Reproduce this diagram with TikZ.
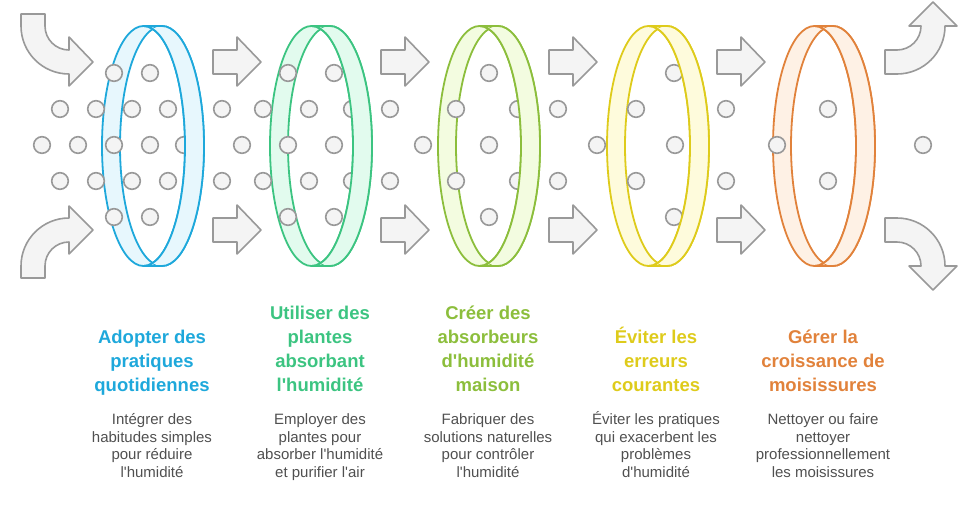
\documentclass[tikz,border=0pt]{standalone}
\usepackage{fontspec}
\newfontfamily\police{Liberation Sans}
\definecolor{dotfill}{HTML}{F4F4F4}
\definecolor{dotline}{HTML}{999999}
\definecolor{bodytext}{HTML}{505050}
\definecolor{ringBleu}{HTML}{1EA8DB}
\definecolor{fondBleu}{HTML}{E7F7FD}
\definecolor{ringVert}{HTML}{3CC481}
\definecolor{fondVert}{HTML}{E2FBEE}
\definecolor{ringLime}{HTML}{8CBE3C}
\definecolor{fondLime}{HTML}{F3FCE0}
\definecolor{ringJaune}{HTML}{DECB1B}
\definecolor{fondJaune}{HTML}{FEFBDC}
\definecolor{ringOrange}{HTML}{E1823B}
\definecolor{fondOrange}{HTML}{FEF1E5}

\tikzset{
  dot/.style={fill=dotfill, draw=dotline, line width=1.6},
  flow/.style={fill=dotfill, draw=dotline, line width=1.6, line join=round},
  ringline/.style={line width=1.8},
  titre/.style={font=\police\fontsize{18.5}{24}\selectfont\bfseries, align=center,
    anchor=south, inner sep=0, execute at end node=\strut},
  texte/.style={font=\police\fontsize{15}{17.5}\selectfont, text=bodytext, align=center,
    anchor=north, inner sep=0, execute at begin node=\strut}
}

% #1 = centre of the back ellipse, #2 = line colour, #3 = fill colour
\newcommand{\anneauArriere}[3]{
  \fill[#3] (#1,26) -- ({#1+18.5},26) arc[start angle=-90, end angle=90, x radius=42, y radius=120]
    -- (#1,266) arc[start angle=90, end angle=270, x radius=41.5, y radius=120] -- cycle;
  \begin{scope}
    \clip (#1,146) ellipse[x radius=41.5, y radius=120];
    \fill[white] ({#1+18.5},146) ellipse[x radius=42, y radius=120];
  \end{scope}
  \draw[ringline, #2] (#1,146) ellipse[x radius=41.5, y radius=120]
    ({#1+18.5},146) ellipse[x radius=42, y radius=120];
  \draw[ringline, #2] (#1,26) -- ({#1+18.5},26) (#1,266) -- ({#1+18.5},266);
}
\newcommand{\anneauAvant}[3]{
  \begin{scope}
    \clip ({#1+18.5},146) ellipse[x radius=42, y radius=120];
    \fill[#3, even odd rule] (#1-50,0) rectangle (#1+80,300) (#1,146) ellipse[x radius=41.5, y radius=120];
  \end{scope}
  \draw[ringline, #2] (#1,26) arc[start angle=-90, end angle=90, x radius=41.5, y radius=120]
    ({#1+18.5},26) arc[start angle=-90, end angle=90, x radius=42, y radius=120];
  \draw[ringline, #2] (#1,26) -- ({#1+18.5},26) (#1,266) -- ({#1+18.5},266);
}

\begin{document}
\begin{tikzpicture}[x=1pt, y=-1pt]
    \useasboundingbox (0,0) rectangle (965,507);

    % back half of the rings
    \anneauArriere{143.5}{ringBleu}{fondBleu}
    \anneauArriere{311.5}{ringVert}{fondVert}
    \anneauArriere{479.5}{ringLime}{fondLime}
    \anneauArriere{648.5}{ringJaune}{fondJaune}
    \anneauArriere{814.5}{ringOrange}{fondOrange}

    % particles
    \foreach \x in {114,150,288,334,489,674}
        \draw[dot] (\x,73) circle[radius=8.3] (\x,217) circle[radius=8.3];
    \foreach \x in {60,96,132,168,222,263,309,352,390,456,518,558,636,726,828}
        \draw[dot] (\x,109) circle[radius=8.3] (\x,181) circle[radius=8.3];
    \foreach \x in {42,78,114,150,184,242,288,334,423,489,597,675,777,923}
        \draw[dot] (\x,145) circle[radius=8.3];

    % front half of the rings
    \anneauAvant{143.5}{ringBleu}{fondBleu}
    \anneauAvant{311.5}{ringVert}{fondVert}
    \anneauAvant{479.5}{ringLime}{fondLime}
    \anneauAvant{648.5}{ringJaune}{fondJaune}
    \anneauAvant{814.5}{ringOrange}{fondOrange}

    % flow arrows
    \foreach \x in {213,381,549,717}
        \foreach \y in {50,218}
            \draw[flow] (\x,\y) -- ++(24,0) -- ++(0,-13) -- ++(24,25) -- ++(-24,24) -- ++(0,-12) -- ++(-24,0) -- cycle;
    \draw[flow] (21,14) -- (45,14) -- (45,26) arc[start angle=180, end angle=90, radius=24]
        -- (69,37) -- (93,62) -- (69,86) -- (69,74) arc[start angle=90, end angle=180, radius=48] -- cycle;
    \draw[flow] (21,278) -- (45,278) -- (45,266) arc[start angle=180, end angle=270, radius=24]
        -- (69,254) -- (93,230) -- (69,206) -- (69,218) arc[start angle=270, end angle=180, radius=48] -- cycle;
    \draw[flow] (885,74) -- (897,74) arc[start angle=90, end angle=0, radius=48]
        -- (957,26) -- (933,2) -- (909,26) -- (921,26) arc[start angle=0, end angle=90, radius=24] -- (885,50) -- cycle;
    \draw[flow] (885,218) -- (897,218) arc[start angle=-90, end angle=0, radius=48]
        -- (957,266) -- (933,290) -- (909,266) -- (921,266) arc[start angle=0, end angle=-90, radius=24] -- (885,242) -- cycle;

    % labels
    \node[titre, text=ringBleu] (adopter) at (152,399) {Adopter des\\pratiques\\quotidiennes};
    \node[texte] (adopterTxt) at (152,413.5) {Intégrer des\\habitudes simples\\pour réduire\\l'humidité};
    \node[titre, text=ringVert] (plantes) at (320,399) {Utiliser des\\plantes\\absorbant\\l'humidité};
    \node[texte] (plantesTxt) at (320,413.5) {Employer des\\plantes pour\\absorber l'humidité\\et purifier l'air};
    \node[titre, text=ringLime] (absorbeurs) at (488,399) {Créer des\\absorbeurs\\d'humidité\\maison};
    \node[texte] (absorbeursTxt) at (488,413.5) {Fabriquer des\\solutions naturelles\\pour contrôler\\l'humidité};
    \node[titre, text=ringJaune] (erreurs) at (656,399) {Éviter les\\erreurs\\courantes};
    \node[texte] (erreursTxt) at (656,413.5) {\smash{É}viter les pratiques\\qui exacerbent les\\problèmes\\d'humidité};
    \node[titre, text=ringOrange] (moisissures) at (823,399) {Gérer la\\croissance de\\moisissures};
    \node[texte] (moisissuresTxt) at (823,413.5) {Nettoyer ou faire\\nettoyer\\professionnellement\\les moisissures};
\end{tikzpicture}
\end{document}
